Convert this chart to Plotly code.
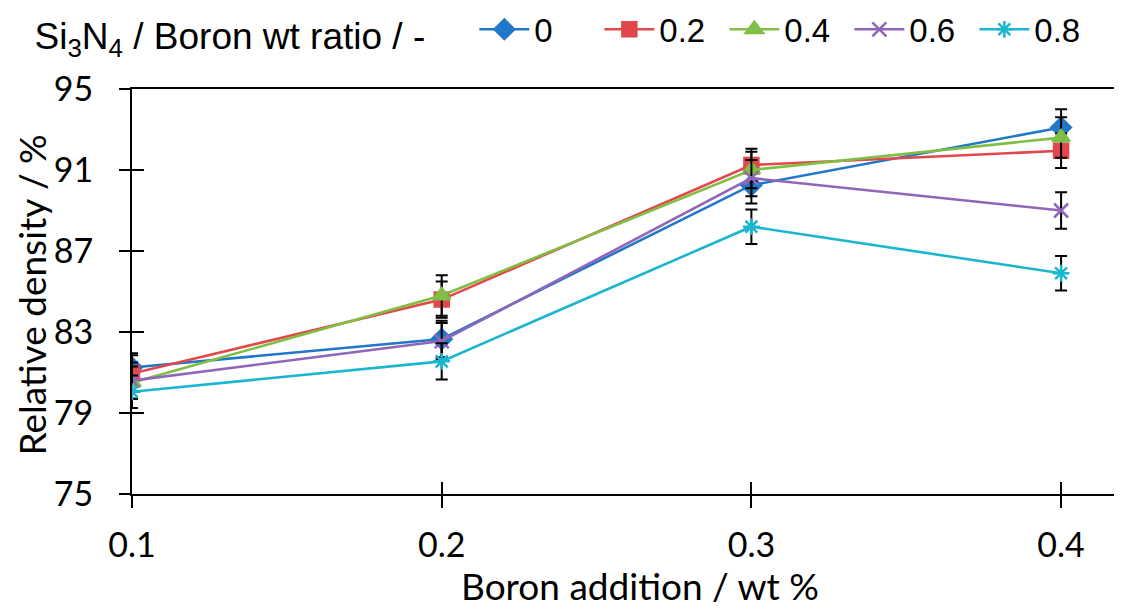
import plotly.graph_objects as go

boron = [0.1, 0.2, 0.3, 0.4]
ratio_labels = ["0", "0.2", "0.4", "0.6", "0.8"]

dens_0 = [81.25, 82.65, 90.25, 93.1]
dens_02 = [80.95, 84.6, 91.25, 91.95]
dens_04 = [80.5, 84.8, 91.0, 92.6]
dens_06 = [80.6, 82.55, 90.6, 89.0]
dens_08 = [80.05, 81.55, 88.2, 85.9]

err_0 = [0.7, 0.9, 0.9, 0.9]
err_02 = [0.9, 0.9, 0.8, 0.85]
err_04 = [0.8, 1.0, 0.9, 1.0]
err_06 = [0.9, 0.9, 0.9, 0.9]
err_08 = [0.8, 0.9, 0.85, 0.85]

y_ticks = [75, 79, 83, 87, 91, 95]
x_ticks = [0.1, 0.2, 0.3, 0.4]

series = [
    (ratio_labels[0], dens_0, err_0, "#2178C8", "diamond", 15),
    (ratio_labels[1], dens_02, err_02, "#E2474B", "square", 14),
    (ratio_labels[2], dens_04, err_04, "#80BE45", "triangle-up", 15),
    (ratio_labels[3], dens_06, err_06, "#9066B8", "x-thin-open", 14),
    (ratio_labels[4], dens_08, err_08, "#1AB6D0", "asterisk-open", 14),
]

fig = go.Figure()
for name, ys, es, col, sym, sz in series:
    fig.add_trace(go.Scatter(
        x=boron, y=ys, name=name, mode="lines+markers",
        line=dict(color=col, width=2.6),
        marker=dict(symbol=sym, size=sz, color=col,
                    line=dict(color=col, width=2.5)),
        error_y=dict(type="data", array=es, visible=True,
                     color="black", thickness=2, width=6),
    ))

xr = [0.1, 0.4187]
yr = [75, 95]
tick_font = dict(family="Lato, Carlito, sans-serif", size=34, color="black")
title_font = dict(family="Lato, Carlito, sans-serif", size=37, color="black")
NB = "\u00a0"

fig.update_layout(
    width=1114, height=601,
    margin=dict(l=124, r=3, t=81, b=115, autoexpand=False),
    paper_bgcolor="white", plot_bgcolor="white",
    font=dict(family="Lato, Carlito, sans-serif", color="black"),
    showlegend=True,
    legend=dict(
        orientation="h",
        xref="container", yref="container",
        x=0.022, y=0.962, xanchor="left", yanchor="middle",
        font=dict(family="Liberation Sans, Arial, sans-serif", size=33, color="black"),
        title=dict(text="Si<sub>3</sub>N<sub>4</sub> / Boron wt ratio / -" + NB * 4,
                   font=dict(family="Liberation Sans, Arial, sans-serif", size=37, color="black")),
        itemwidth=50, entrywidth=60, entrywidthmode="pixels",
        tracegroupgap=0, bgcolor="rgba(0,0,0,0)",
    ),
    xaxis=dict(
        range=xr, tickvals=x_ticks, ticktext=[str(v) for v in x_ticks],
        showgrid=False, zeroline=False, automargin=False,
        showline=True, linecolor="black", linewidth=2, mirror=True,
        ticks="outside", ticklen=12, tickwidth=2, tickcolor="black",
        tickfont=tick_font, ticklabelstandoff=8,
    ),
    # label-carrying y axis: transparent long ticks push labels away from the axis
    yaxis=dict(
        range=yr, tickvals=y_ticks,
        showgrid=False, zeroline=False, automargin=False,
        showline=True, linecolor="black", linewidth=2, mirror=True,
        ticks="outside", ticklen=30, tickwidth=2, tickcolor="rgba(0,0,0,0)",
        tickfont=tick_font,
    ),
    xaxis2=dict(
        range=xr, tickvals=x_ticks, overlaying="x", side="bottom",
        showgrid=False, zeroline=False, showline=False, automargin=False,
        ticks="inside", ticklen=12, tickwidth=2, tickcolor="black",
        showticklabels=False, anchor="y",
    ),
    yaxis2=dict(
        range=yr, tickvals=y_ticks[1:-1], overlaying="y", side="left",
        showgrid=False, zeroline=False, showline=False, automargin=False,
        ticks="inside", ticklen=12, tickwidth=2, tickcolor="black",
        showticklabels=False, anchor="x",
    ),
    yaxis3=dict(
        range=yr, tickvals=y_ticks, overlaying="y", side="left",
        showgrid=False, zeroline=False, showline=False, automargin=False,
        ticks="outside", ticklen=12, tickwidth=2, tickcolor="black",
        showticklabels=False, anchor="x",
    ),
    annotations=[
        dict(text="Boron addition / wt %", xref="paper", yref="paper",
             x=0.5147, y=-0.226, xanchor="center", yanchor="middle",
             showarrow=False, font=title_font),
        dict(text="Relative density / %", xref="paper", yref="paper",
             x=-0.1013, y=0.49, xanchor="center", yanchor="middle",
             textangle=-90, showarrow=False, font=title_font),
    ],
)

# invisible traces to activate the secondary (tick-only) axes
fig.add_trace(go.Scatter(x=[boron[0]], y=[y_ticks[0]], xaxis="x2", yaxis="y2",
                         mode="markers", marker=dict(opacity=0),
                         showlegend=False, hoverinfo="skip"))
fig.add_trace(go.Scatter(x=[boron[0]], y=[y_ticks[0]], xaxis="x", yaxis="y3",
                         mode="markers", marker=dict(opacity=0),
                         showlegend=False, hoverinfo="skip"))

fig.write_html("out.html")
